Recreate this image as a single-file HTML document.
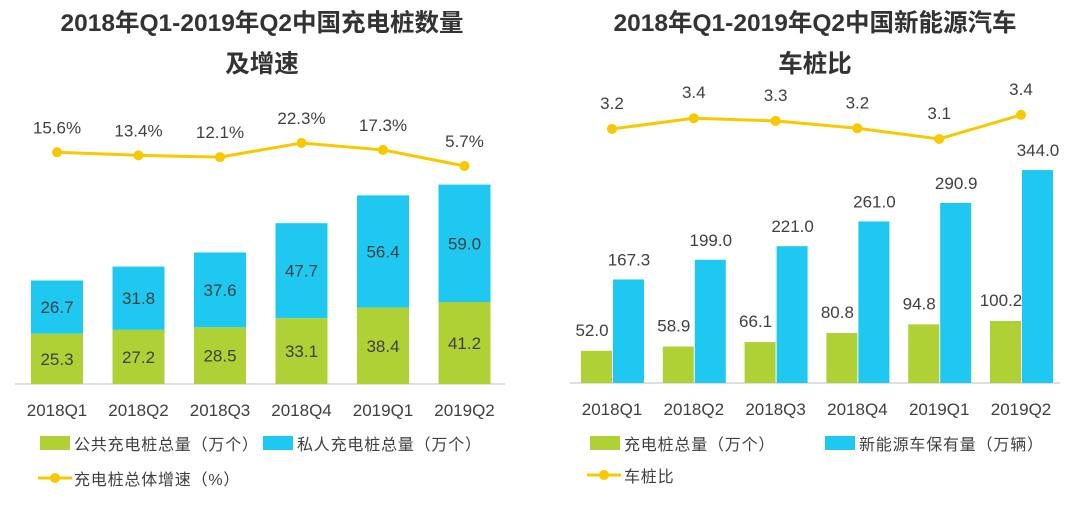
<!DOCTYPE html>
<html><head><meta charset="utf-8"><style>
body{margin:0;background:#fff;width:1090px;height:509px;overflow:hidden}
svg text{font-family:"Liberation Sans","Noto Sans CJK SC",sans-serif}
</style></head><body>
<svg id="c" width="1090" height="509" xmlns="http://www.w3.org/2000/svg"></svg>
<script>
const categories=["2018Q1","2018Q2","2018Q3","2018Q4","2019Q1","2019Q2"];
const publicPiles=[25.3,27.2,28.5,33.1,38.4,41.2];
const privatePiles=[26.7,31.8,37.6,47.7,56.4,59.0];
const growthRate=[15.6,13.4,12.1,22.3,17.3,5.7];
const growthLabels=["15.6%","13.4%","12.1%","22.3%","17.3%","5.7%"];
const totalPiles=[52.0,58.9,66.1,80.8,94.8,100.2];
const nevOwnership=[167.3,199.0,221.0,261.0,290.9,344.0];
const ratio=[3.22,3.38,3.34,3.23,3.07,3.43];
const ratioLabels=["3.2","3.4","3.3","3.2","3.1","3.4"];

const svg=document.getElementById('c');
const NS="http://www.w3.org/2000/svg";
function mk(tag,attrs,name,text){const e=document.createElementNS(NS,tag);for(const k in attrs)e.setAttribute(k,attrs[k]);


if(text!==undefined)e.textContent=text;svg.appendChild(e);return e;}
const G="#b0d136",B="#1fc8f0",Y="#f9c800",T="#404040";

// titles
mk('text',{x:262,y:31,'text-anchor':'middle','font-size':24.5,'font-weight':'bold',fill:'#333'},'left-title-line1','2018年Q1-2019年Q2中国充电桩数量');
mk('text',{x:262,y:72,'text-anchor':'middle','font-size':24.5,'font-weight':'bold',fill:'#333'},'left-title-line2','及增速');
mk('text',{x:815,y:31,'text-anchor':'middle','font-size':24.5,'font-weight':'bold',fill:'#333'},'right-title-line1','2018年Q1-2019年Q2中国新能源汽车');
mk('text',{x:815,y:72,'text-anchor':'middle','font-size':24.5,'font-weight':'bold',fill:'#333'},'right-title-line2','车桩比');

// left chart
const lBase=384, lx=i=>57+i*81.5, ly=v=>lBase-v*1.99, lr=v=>173.9-v*1.386;
mk('line',{x1:15,x2:505,y1:lBase,y2:lBase,stroke:'#bfbfbf','stroke-width':1},'left-x-axis');
categories.forEach((c,i)=>{
  const x=lx(i);
  mk('rect',{x:x-26,y:ly(publicPiles[i]),width:52,height:lBase-ly(publicPiles[i]),fill:G},'public-bar-'+c);
  mk('rect',{x:x-26,y:ly(publicPiles[i]+privatePiles[i]),width:52,height:privatePiles[i]*1.99,fill:B},'private-bar-'+c);
  mk('text',{x:x,y:(ly(publicPiles[i])+lBase)/2+6,'text-anchor':'middle','font-size':17,fill:T},'public-value-'+c,publicPiles[i].toFixed(1));
  mk('text',{x:x,y:(ly(publicPiles[i])+ly(publicPiles[i]+privatePiles[i]))/2+6,'text-anchor':'middle','font-size':17,fill:T},'private-value-'+c,privatePiles[i].toFixed(1));
  mk('text',{x:x,y:416,'text-anchor':'middle','font-size':17,fill:T},'left-x-tick-'+c,c);
  mk('text',{x:x,y:lr(growthRate[i])-19,'text-anchor':'middle','font-size':17,fill:T},'growth-label-'+c,growthLabels[i]);
});
mk('polyline',{points:growthRate.map((v,i)=>lx(i)+','+lr(v)).join(' '),fill:'none',stroke:Y,'stroke-width':3},'growth-line');
growthRate.forEach((v,i)=>mk('circle',{cx:lx(i),cy:lr(v),r:5,fill:Y},'growth-point-'+categories[i]));

// left legend
mk('rect',{x:40,y:436,width:30,height:14,fill:G},'legend-public-swatch');
mk('text',{x:74,y:450,'font-size':16,'letter-spacing':0.8,fill:T},'legend-public','公共充电桩总量（万个）');
mk('rect',{x:263,y:436,width:30,height:14,fill:B},'legend-private-swatch');
mk('text',{x:297,y:450,'font-size':16,'letter-spacing':0.8,fill:T},'legend-private','私人充电桩总量（万个）');
mk('line',{x1:38,x2:72,y1:478,y2:478,stroke:Y,'stroke-width':3},'legend-growth-line');
mk('circle',{cx:55,cy:478,r:5,fill:Y},'legend-growth-dot');
mk('text',{x:74,y:485,'font-size':16,'letter-spacing':0.8,fill:T},'legend-growth','充电桩总体增速（%）');

// right chart
const rBase=383, rx=i=>612+i*81.8, ry=v=>rBase-v*0.619, rr=v=>139-(v-3.07)*67;
mk('line',{x1:570,x2:1060,y1:rBase,y2:rBase,stroke:'#bfbfbf','stroke-width':1},'right-x-axis');
categories.forEach((c,i)=>{
  const x=rx(i);
  mk('rect',{x:x-31,y:ry(totalPiles[i]),width:31,height:rBase-ry(totalPiles[i]),fill:G},'total-bar-'+c);
  mk('rect',{x:x+1,y:ry(nevOwnership[i]),width:31,height:rBase-ry(nevOwnership[i]),fill:B},'nev-bar-'+c);
  mk('text',{x:x-20,y:ry(totalPiles[i])-15,'text-anchor':'middle','font-size':17,fill:T},'total-value-'+c,totalPiles[i].toFixed(1));
  mk('text',{x:x+17,y:ry(nevOwnership[i])-14,'text-anchor':'middle','font-size':17,fill:T},'nev-value-'+c,nevOwnership[i].toFixed(1));
  mk('text',{x:x,y:415,'text-anchor':'middle','font-size':17,fill:T},'right-x-tick-'+c,c);
  mk('text',{x:x,y:rr(ratio[i])-20,'text-anchor':'middle','font-size':17,fill:T},'ratio-label-'+c,ratioLabels[i]);
});
mk('polyline',{points:ratio.map((v,i)=>rx(i)+','+rr(v)).join(' '),fill:'none',stroke:Y,'stroke-width':3},'ratio-line');
ratio.forEach((v,i)=>mk('circle',{cx:rx(i),cy:rr(v),r:5,fill:Y},'ratio-point-'+categories[i]));

// right legend
mk('rect',{x:590,y:436,width:30,height:14,fill:G},'legend-total-swatch');
mk('text',{x:624,y:450,'font-size':16,'letter-spacing':0.8,fill:T},'legend-total','充电桩总量（万个）');
mk('rect',{x:825,y:436,width:30,height:14,fill:B},'legend-nev-swatch');
mk('text',{x:859,y:450,'font-size':16,'letter-spacing':0.8,fill:T},'legend-nev','新能源车保有量（万辆）');
mk('line',{x1:587,x2:621,y1:475,y2:475,stroke:Y,'stroke-width':3},'legend-ratio-line');
mk('circle',{cx:604,cy:475,r:5,fill:Y},'legend-ratio-dot');
mk('text',{x:624,y:482,'font-size':16,'letter-spacing':0.8,fill:T},'legend-ratio','车桩比');
</script>
</body></html>
